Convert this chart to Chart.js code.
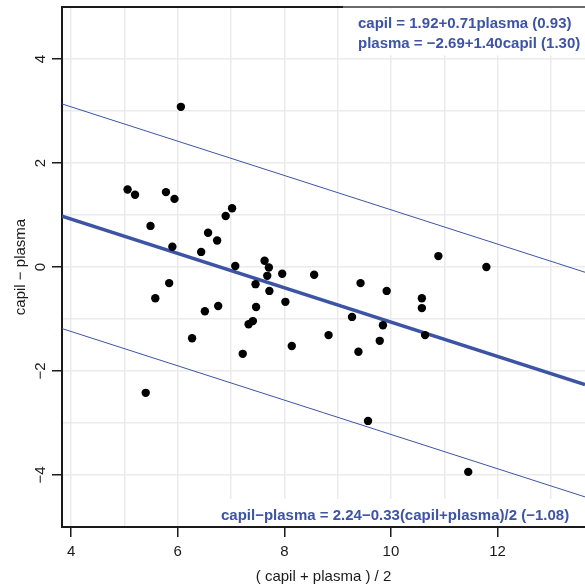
<!DOCTYPE html>
<html>
<head>
<meta charset="utf-8">
<script src="https://cdn.jsdelivr.net/npm/chart.js@4.4.0/dist/chart.umd.min.js"></script>
<style>
  html, body { margin: 0; padding: 0; background: #fff; }
</style>
</head>
<body>
<canvas id="ba" width="585" height="587"></canvas>
<script>
// (capil + plasma) / 2 for each sample
const meanVals = [
  5.06, 5.20, 5.40, 5.49, 5.58, 5.78, 5.84, 5.90, 5.94, 6.06,
  6.27, 6.44, 6.51, 6.57, 6.74, 6.76, 6.90, 7.02, 7.08, 7.22,
  7.33, 7.41, 7.46, 7.47, 7.63, 7.68, 7.71, 7.72, 7.96, 8.02,
  8.14, 8.56, 8.83, 9.27, 9.39, 9.43, 9.57, 9.79, 9.85, 9.92,
  10.58, 10.58, 10.64, 10.89, 11.45, 11.79
];
// capil - plasma for each sample
const diffVals = [
  1.49, 1.39, -2.42, 0.79, -0.60, 1.44, -0.31, 0.39, 1.31, 3.08,
  -1.37, 0.29, -0.85, 0.66, 0.51, -0.75, 0.98, 1.13, 0.02, -1.67,
  -1.10, -1.04, -0.33, -0.77, 0.12, -0.17, -0.01, -0.46, -0.13, -0.67,
  -1.52, -0.15, -1.31, -0.96, -1.63, -0.31, -2.96, -1.42, -1.12, -0.46,
  -0.60, -0.79, -1.31, 0.21, -3.94, 0.00
];

// regression of the difference on the mean, residual sd
const regIntercept = 2.24;
const regSlope = -0.33;
const regSd = 1.08;

const xTicks = [4, 5, 6, 7, 8, 9, 10, 11, 12, 13];
const yTicks = [-4, -3, -2, -1, 0, 1, 2, 3, 4];
const xRange = [3.83, 13.64];
const yRange = [-5, 5];

const fitLines = [
  'capil = 1.92+0.71plasma (0.93)',
  'plasma = −2.69+1.40capil (1.30)'
];
const diffLine = 'capil−plasma = 2.24−0.33(capil+plasma)/2 (−1.08)';

const BLUE = '#3d54a4';
const INK = '#1a1a1a';
const FONT = "'Liberation Sans', Arial, Helvetica, sans-serif";

const points = meanVals.map((m, i) => ({ x: m, y: diffVals[i] }));
const regAt = (x, shift) => regIntercept + regSlope * x + shift;
const regLine = shift => xRange.map(x => ({ x: x, y: regAt(x, shift) }));

const isMajor = v => v % 2 === 0;
const fmt = v => String(v).replace('-', '\u2212');

const frame = {
  id: 'frame',
  beforeDatasetsDraw(chart) {
    const { ctx, chartArea: a } = chart;
    ctx.save();
    ctx.lineWidth = 2;
    ctx.strokeStyle = INK;
    ctx.beginPath();
    ctx.moveTo(a.left - 1, a.top);
    ctx.lineTo(343, a.top);
    ctx.stroke();
    ctx.strokeStyle = '#6a6a6a';
    ctx.beginPath();
    ctx.moveTo(343, a.top);
    ctx.lineTo(a.right, a.top);
    ctx.stroke();
    // white backing behind the equations
    ctx.fillStyle = '#fff';
    ctx.fillRect(343, a.top + 1.5, a.right - 343, 47);
    ctx.fillRect(214, a.bottom - 28, a.right - 214, 27);
    ctx.restore();
  },
  afterDatasetsDraw(chart) {
    const { ctx } = chart;
    ctx.save();
    ctx.fillStyle = BLUE;
    ctx.font = 'bold 15px ' + FONT;
    ctx.textAlign = 'left';
    ctx.textBaseline = 'middle';
    fitLines.forEach((t, i) => ctx.fillText(t, 358, 23.5 + i * 20));
    ctx.fillText(diffLine, 221, 515.5);
    ctx.restore();
  }
};

new Chart(document.getElementById('ba'), {
  type: 'scatter',
  data: {
    datasets: [
      {
        data: points,
        backgroundColor: '#000',
        borderWidth: 0,
        pointRadius: 4.2,
        order: 0
      },
      {
        type: 'line',
        data: regLine(0),
        borderColor: BLUE,
        borderWidth: 3.5,
        pointRadius: 0,
        order: 1
      },
      {
        type: 'line',
        data: regLine(2 * regSd),
        borderColor: BLUE,
        borderWidth: 1,
        pointRadius: 0,
        order: 1
      },
      {
        type: 'line',
        data: regLine(-2 * regSd),
        borderColor: BLUE,
        borderWidth: 1,
        pointRadius: 0,
        order: 1
      }
    ]
  },
  options: {
    responsive: false,
    animation: false,
    layout: {
      autoPadding: false,
      padding: { top: 7, right: 0, bottom: 0, left: 0 }
    },
    plugins: {
      legend: { display: false },
      tooltip: { enabled: false }
    },
    scales: {
      x: {
        type: 'linear',
        min: xRange[0],
        max: xRange[1],
        afterBuildTicks: s => { s.ticks = xTicks.map(v => ({ value: v })); },
        afterFit: s => {
          s.height = 60;
          s.paddingLeft = 0;
          s.paddingRight = 0;
        },
        grid: {
          color: '#ebebeb',
          lineWidth: 1.5,
          tickLength: 10,
          tickWidth: 1.5,
          tickColor: c => (isMajor(c.tick.value) ? INK : 'rgba(0,0,0,0)')
        },
        border: { display: true, color: INK, width: 2 },
        ticks: {
          autoSkip: false,
          maxRotation: 0,
          padding: 6,
          color: INK,
          font: { family: FONT, size: 15 },
          callback: v => (isMajor(v) ? fmt(v) : '')
        },
        title: {
          display: true,
          text: '( capil + plasma ) / 2',
          color: INK,
          font: { family: FONT, size: 15 },
          padding: { top: 0, bottom: 1 }
        }
      },
      y: {
        type: 'linear',
        min: yRange[0],
        max: yRange[1],
        afterBuildTicks: s => { s.ticks = yTicks.map(v => ({ value: v })); },
        afterFit: s => {
          s.width = 62;
          s.paddingTop = 0;
          s.paddingBottom = 0;
        },
        grid: {
          color: '#ebebeb',
          lineWidth: 1.5,
          tickLength: 10,
          tickWidth: 1.5,
          tickColor: c => (isMajor(c.tick.value) ? INK : 'rgba(0,0,0,0)')
        },
        border: { display: true, color: INK, width: 2 },
        ticks: {
          autoSkip: false,
          minRotation: 90,
          maxRotation: 90,
          crossAlign: 'center',
          padding: 3,
          color: INK,
          font: { family: FONT, size: 15 },
          callback: v => (isMajor(v) ? fmt(v) : '')
        },
        title: {
          display: true,
          text: 'capil \u2212 plasma',
          color: INK,
          font: { family: FONT, size: 15 },
          padding: { top: 12, bottom: 0 }
        }
      }
    }
  },
  plugins: [frame]
});
</script>
</body>
</html>
